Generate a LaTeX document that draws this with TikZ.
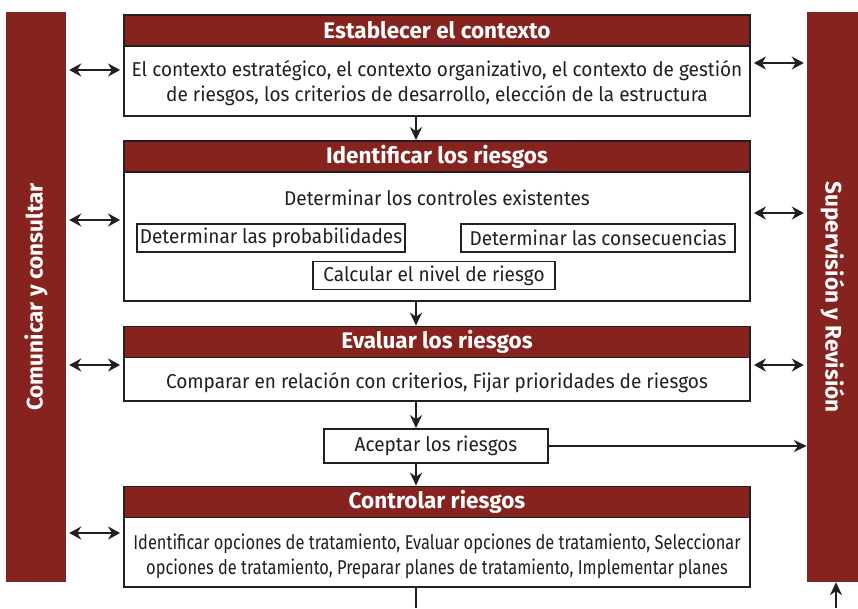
\documentclass[tikz,border=0pt]{standalone}
\usepackage{fontspec}
\setmainfont[FakeStretch=0.95]{Fira Sans}
\newfontfamily\hfont{Fira Sans}
\newfontfamily\cfont[FakeStretch=0.82]{Fira Sans}
\usetikzlibrary{arrows.meta}
\definecolor{rojo}{RGB}{134,35,31}
\definecolor{borde}{RGB}{35,31,32}
\tikzset{
  bar/.style={fill=rojo, draw=none, minimum width=#1, inner sep=0pt},
  mainbox/.style={draw=borde, line width=1.8pt, fill=white, minimum width=626pt, inner sep=0pt},
  hdr/.style={fill=rojo, draw=borde, line width=1.8pt, minimum width=626pt, minimum height=31pt, inner sep=0pt, text=white, font=\hfont\fontsize{22.5}{26}\selectfont\bfseries},
  body/.style={align=center, font=\fontsize{20}{25}\selectfont, inner sep=0pt, text=borde},
  subbox/.style={draw=borde, line width=1.6pt, fill=white, inner sep=0pt, minimum height=28pt, font=\fontsize{20}{22}\selectfont, text=borde},
  arr/.style={draw=borde, line width=2pt, -{Stealth[length=13pt,width=12pt]}},
  darr/.style={draw=borde, line width=2pt, {Stealth[length=12pt,width=13pt]}-{Stealth[length=12pt,width=13pt]}},
  vtext/.style={text=white, font=\hfont\fontsize{22.5}{26}\selectfont\bfseries}
}
\begin{document}
\begin{tikzpicture}[x=1pt,y=-1pt]
\useasboundingbox (0,0) rectangle (858,608);
% side bars
\node[bar=60pt, minimum height=570pt] (lbar) at (36,297) {};
\node[bar=51pt, minimum height=570pt] (rbar) at (832.5,297) {};
\node[vtext, rotate=90] (lt) at (lbar.center) {Comunicar y consultar};
\node[vtext, rotate=-90] (rt) at (rbar.center) {Supervisión y Revisión};
% box 1
\node[mainbox, minimum height=101pt] (b1) at (437,65.5) {};
\node[hdr] (h1) at (437,30.5) {Establecer el contexto};
\node[body] (t1) at (437,83) {El contexto estratégico, el contexto organizativo, el contexto de gestión\\de riesgos, los criterios de desarrollo, elección de la estructura};
% box 2
\node[mainbox, minimum height=160pt] (b2) at (437,221) {};
\node[hdr] (h2) at (437,156.5) {Identificar los riesgos};
\node[body] (t2) at (437,198) {Determinar los controles existentes};
\node[subbox, minimum width=268pt] (s1) at (271,238) {Determinar las probabilidades};
\node[subbox, minimum width=274pt] (s2) at (598,238) {Determinar las consecuencias};
\node[subbox, minimum width=242pt] (s3) at (434,275.5) {Calcular el nivel de riesgo};
% box 3
\node[mainbox, minimum height=74pt] (b3) at (437,364) {};
\node[hdr] (h3) at (437,342) {Evaluar los riesgos};
\node[body] (t3) at (437,383) {Comparar en relación con criterios, Fijar prioridades de riesgos};
% aceptar
\node[subbox, line width=1.8pt, minimum width=224pt, minimum height=34pt] (ac) at (436,446) {Aceptar los riesgos};
% box 4
\node[mainbox, minimum height=100pt] (b4) at (437,537) {};
\node[hdr] (h4) at (437,502) {Controlar riesgos};
\node[body, font=\cfont\fontsize{20}{25}\selectfont] (t4) at (437,556) {Identificar opciones de tratamiento, Evaluar opciones de tratamiento, Seleccionar\\opciones de tratamiento, Preparar planes de tratamiento, Implementar planes};
% vertical flow
\draw[arr] ([xshift=-21pt]b1.south) -- ([xshift=-21pt]h2.north);
\draw[arr] ([xshift=-21pt]b2.south) -- ([xshift=-21pt]h3.north);
\draw[arr] ([xshift=-21pt]b3.south) -- ([xshift=-20pt]ac.north);
\draw[arr] ([xshift=-20pt]ac.south) -- ([xshift=-21pt]h4.north);
\coordinate (bend) at (416,608);
\draw[draw=borde, line width=2pt] ([xshift=-21pt]b4.south) -- (bend);
\coordinate (rend) at (836,608);
\draw[arr] (rend) -- (rend |- rbar.south);
\draw[arr] (ac.east) -- (ac.east -| rbar.west);
% side double arrows
\draw[darr] ([xshift=3pt]lbar.east |- 0,70) -- ([xshift=-3pt]b1.west |- 0,70);
\draw[darr] ([xshift=3pt]lbar.east |- 0,220) -- ([xshift=-3pt]b2.west |- 0,220);
\draw[darr] ([xshift=3pt]lbar.east |- 0,365) -- ([xshift=-3pt]b3.west |- 0,365);
\draw[darr] ([xshift=3pt]lbar.east |- 0,533) -- ([xshift=-3pt]b4.west |- 0,533);
\draw[darr] ([xshift=3pt]b1.east |- 0,63) -- ([xshift=-3pt]rbar.west |- 0,63);
\draw[darr] ([xshift=3pt]b2.east |- 0,213) -- ([xshift=-3pt]rbar.west |- 0,213);
\draw[darr] ([xshift=3pt]b3.east |- 0,365) -- ([xshift=-3pt]rbar.west |- 0,365);
\end{tikzpicture}
\end{document}
